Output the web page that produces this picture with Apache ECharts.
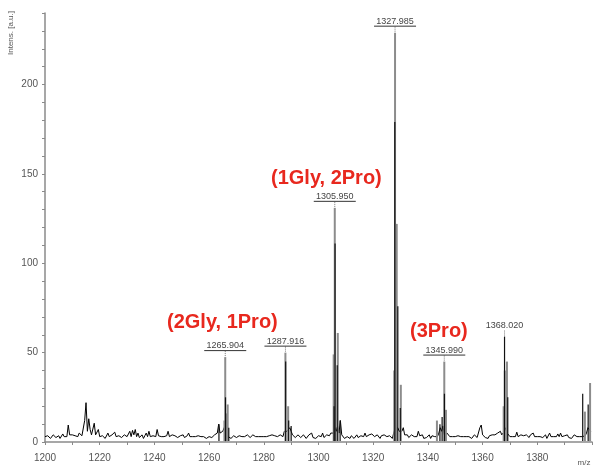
<!DOCTYPE html>
<html>
<head>
<meta charset="utf-8">
<script src="https://cdn.jsdelivr.net/npm/echarts@6/dist/echarts.min.js"></script>
<style>html,body{margin:0;padding:0;background:#fff}#c{width:600px;height:469px}</style>
</head>
<body>
<div id="c"></div>
<script>
// ---- data ----
const xTickLabels = [1200, 1220, 1240, 1260, 1280, 1300, 1320, 1340, 1360, 1380];
const yTickLabels = [0, 50, 100, 150, 200];
const xRange = [1200, 1400];
const yRange = [0, 240];

// baseline trace, sampled every 0.5 m/z starting at 1200
const noiseStart = 1200;
const noiseStep = 0.5;
const noise = [
  3,2.5,3.5,3,2,3,4,3.5,2.5,3,3.5,2,3,4.5,3,2.5,3,9.5,4,3.5,
  4,5,3.5,4,3,5,4,3.5,4,12,22,6,13,7,4,3.5,10.5,4,3,7,
  3,2.5,3.5,4,2,3,5,3,2.5,4,3.5,5.5,3,2,3.5,4,2.5,3,4,3,
  3,4,6,3,6.5,4,7,3,5,2.5,3,4,2,3.5,5,3,6,3,2.5,3.5,
  4,3,7,3.5,2.5,3,4,3,2,3.5,6,3,2.5,4,3,3.5,4,2.5,3,3.5,
  3,4,2.5,3,3.5,5,3,2,3,4,3,2.5,3.5,4,3,2.5,3,3.5,2,3,
  3,3.5,2.5,3,4,3,5,10,5,4,6,8,6,5,3,4,2,3,3.5,3,
  2.5,3,3.5,4,3,2.5,3,3.5,4,3,2.5,3,4,3.5,3,2.5,3,4,3,3.5,
  3,4,3,2.5,3.5,3,4,3,3.5,4,3,3.5,4,5,3,6,5,6,5,8,
  6,4,3,2.5,3.5,4,3,2.5,3,4,3.5,2,3,4,3,5,2.5,3,2,3,
  3.5,4,3,5,2.5,3,4,3,3.5,5,6,5,8,6,9,5,12,4,3,2,
  1.5,3,2.5,2,3.5,3,2,3,4,2.5,3,3.5,4,3,5,3,2.5,4,3,4.5,
  3.5,3,2.5,4,3,2,3.5,3,4,5,3,2.5,3.5,4,2,5,8,7,8,6,
  7,6,8,4,3,4,2.5,3,4,3,3,4,3,6,3.5,3,4,2,3,2.5,
  3,4,2,3.5,4,3,2,3,5,8,6,9,4,3,5,4,3,2.5,3,3.5,
  3,2.5,3.5,4,3,2.5,3,4,3,2,3,3.5,2,3,4,3,2.5,3,8,9.5,
  4,3,2.5,3,2,3.5,3,4,5,4,3,5,4,6,4,3,6,8,5,4,
  3,2.5,3,4,3,5.5,3,2.5,4,3,3.5,3,4,3,2.5,4,3,5,3,2.5,
  3,4,3,3.5,2.5,3,4,2,3,5,3,4,3,2.5,3,4.5,3,5,3,4,
  3.5,3,4,2.5,3,2,3,4,3.5,3,2.5,3,4,3,2,3.5,5,8,7,6
];

// peak sticks (lighter grey parts)
const lightMz  = [1265.6,1265.9,1266.3,1266.8, 1287.9,1288.9, 1305.55,1305.95,1307.05, 1327.7,1327.985,1328.3,1328.6,1330.1, 1343.3,1345.99,1346.6, 1367.7,1368.1,1368.9, 1397.4,1399.3];
const lightInt = [12,47.5,16,21, 50,20, 49,131,61, 40,229,122,122,32, 12,45,18, 20,40,45, 17,33];
// peak sticks (dark parts)
const darkMz  = [1263.6,1266.0,1267.2, 1288.0,1289.1,1290.0, 1305.7,1306.05,1306.85,1307.9, 1327.9,1329.0,1329.9, 1344.4,1345.2,1346.05, 1368.02,1369.2, 1396.6,1398.6];
const darkInt = [10,25,8, 45,12,9, 20,111,43,12, 179,76,19, 10,14,27, 59,25, 27,21];

// peak annotations
const peakLabelMz   = [1265.904, 1287.916, 1305.950, 1327.985, 1345.990, 1368.020];
const peakLabelInt  = [47.5, 50, 131, 229, 45, 59];
const peakLabelText = ['1265.904', '1287.916', '1305.950', '1327.985', '1345.990', '1368.020'];
const underlined    = [true, true, true, true, true, false];

const groupText = ['(2Gly, 1Pro)', '(1Gly, 2Pro)', '(3Pro)'];

// ---- chart ----
const chart = echarts.init(document.getElementById('c'), null, {renderer: 'canvas'});
const AXIS = '#8a8a8a';
const LBL = '#555';
const FONT = 'Liberation Sans, Arial, sans-serif';

const traceData = noise.map((v, i) => [noiseStart + i * noiseStep, v]);

function stemRenderer(color, width) {
  return function (params, api) {
    const p0 = api.coord([api.value(0), 0.5]);
    const p1 = api.coord([api.value(0), api.value(1)]);
    return {type: 'line', shape: {x1: p0[0], y1: p0[1], x2: p1[0], y2: p1[1]},
            style: {stroke: color, lineWidth: width}};
  };
}

const option = {
  animation: false,
  grid: {left: 45, right: 8, top: 13, bottom: 27, containLabel: false},
  xAxis: {
    type: 'value', min: xRange[0], max: xRange[1], interval: 10,
    axisLine: {show: true, lineStyle: {color: AXIS, width: 1.5}},
    axisTick: {show: true, length: 3, lineStyle: {color: AXIS}},
    splitLine: {show: false},
    axisLabel: {
      color: LBL, fontSize: 10, fontFamily: FONT, margin: 11,
      formatter: v => xTickLabels.indexOf(v) >= 0 ? String(v) : ''
    }
  },
  yAxis: {
    type: 'value', min: yRange[0], max: yRange[1], interval: 10,
    axisLine: {show: true, lineStyle: {color: AXIS, width: 1.5}},
    axisTick: {show: true, length: 3, lineStyle: {color: AXIS}},
    splitLine: {show: false},
    axisLabel: {
      color: LBL, fontSize: 10, fontFamily: FONT, margin: 7,
      formatter: v => yTickLabels.indexOf(v) >= 0 ? String(v) : ''
    }
  },
  series: [
    {
      type: 'line', data: traceData, symbol: 'none', silent: true,
      lineStyle: {color: '#000', width: 1}, z: 2
    },
    {
      type: 'custom', data: lightMz.map((m, i) => [m, lightInt[i]]),
      encode: {x: 0, y: 1}, renderItem: stemRenderer('#8c8c8c', 2), z: 3, silent: true
    },
    {
      type: 'custom', data: darkMz.map((m, i) => [m, darkInt[i]]),
      encode: {x: 0, y: 1}, renderItem: stemRenderer('#111', 1.2), z: 4, silent: true
    },
    {
      type: 'custom', data: peakLabelMz.map((m, i) => [m, peakLabelInt[i]]),
      encode: {x: 0, y: 1}, z: 5, silent: true,
      renderItem: function (params, api) {
        const i = params.dataIndex;
        const p = api.coord([api.value(0), api.value(1)]);
        const children = [
          {type: 'text', style: {text: peakLabelText[i], x: p[0], y: p[1] - 7,
            textAlign: 'center', textVerticalAlign: 'bottom',
            font: '9px ' + FONT, fill: '#444'}},
          {type: 'line', shape: {x1: p[0], y1: p[1] - 6, x2: p[0], y2: p[1]},
            style: {stroke: '#777', lineWidth: 1, lineDash: [1, 1]}}
        ];
        if (underlined[i]) {
          children.push({type: 'line', shape: {x1: p[0] - 21, y1: p[1] - 6.5, x2: p[0] + 21, y2: p[1] - 6.5},
            style: {stroke: '#333', lineWidth: 1}});
        }
        return {type: 'group', children: children};
      }
    }
  ],
  graphic: [
    {type: 'text', x: 11, y: 33, rotation: Math.PI / 2,
      style: {text: 'Intens. [a.u.]', font: '8px ' + FONT, fill: '#555', textAlign: 'center', textVerticalAlign: 'middle'}},
    {type: 'text', x: 584, y: 463,
      style: {text: 'm/z', font: '8px ' + FONT, fill: '#555', textAlign: 'center', textVerticalAlign: 'middle'}},
    {type: 'text', x: 167, y: 322,
      style: {text: groupText[0], font: 'bold 20px ' + FONT, fill: '#e8281e', textAlign: 'left', textVerticalAlign: 'middle'}},
    {type: 'text', x: 271, y: 178,
      style: {text: groupText[1], font: 'bold 20px ' + FONT, fill: '#e8281e', textAlign: 'left', textVerticalAlign: 'middle'}},
    {type: 'text', x: 410, y: 331,
      style: {text: groupText[2], font: 'bold 20px ' + FONT, fill: '#e8281e', textAlign: 'left', textVerticalAlign: 'middle'}}
  ]
};
chart.setOption(option);
</script>
</body>
</html>
